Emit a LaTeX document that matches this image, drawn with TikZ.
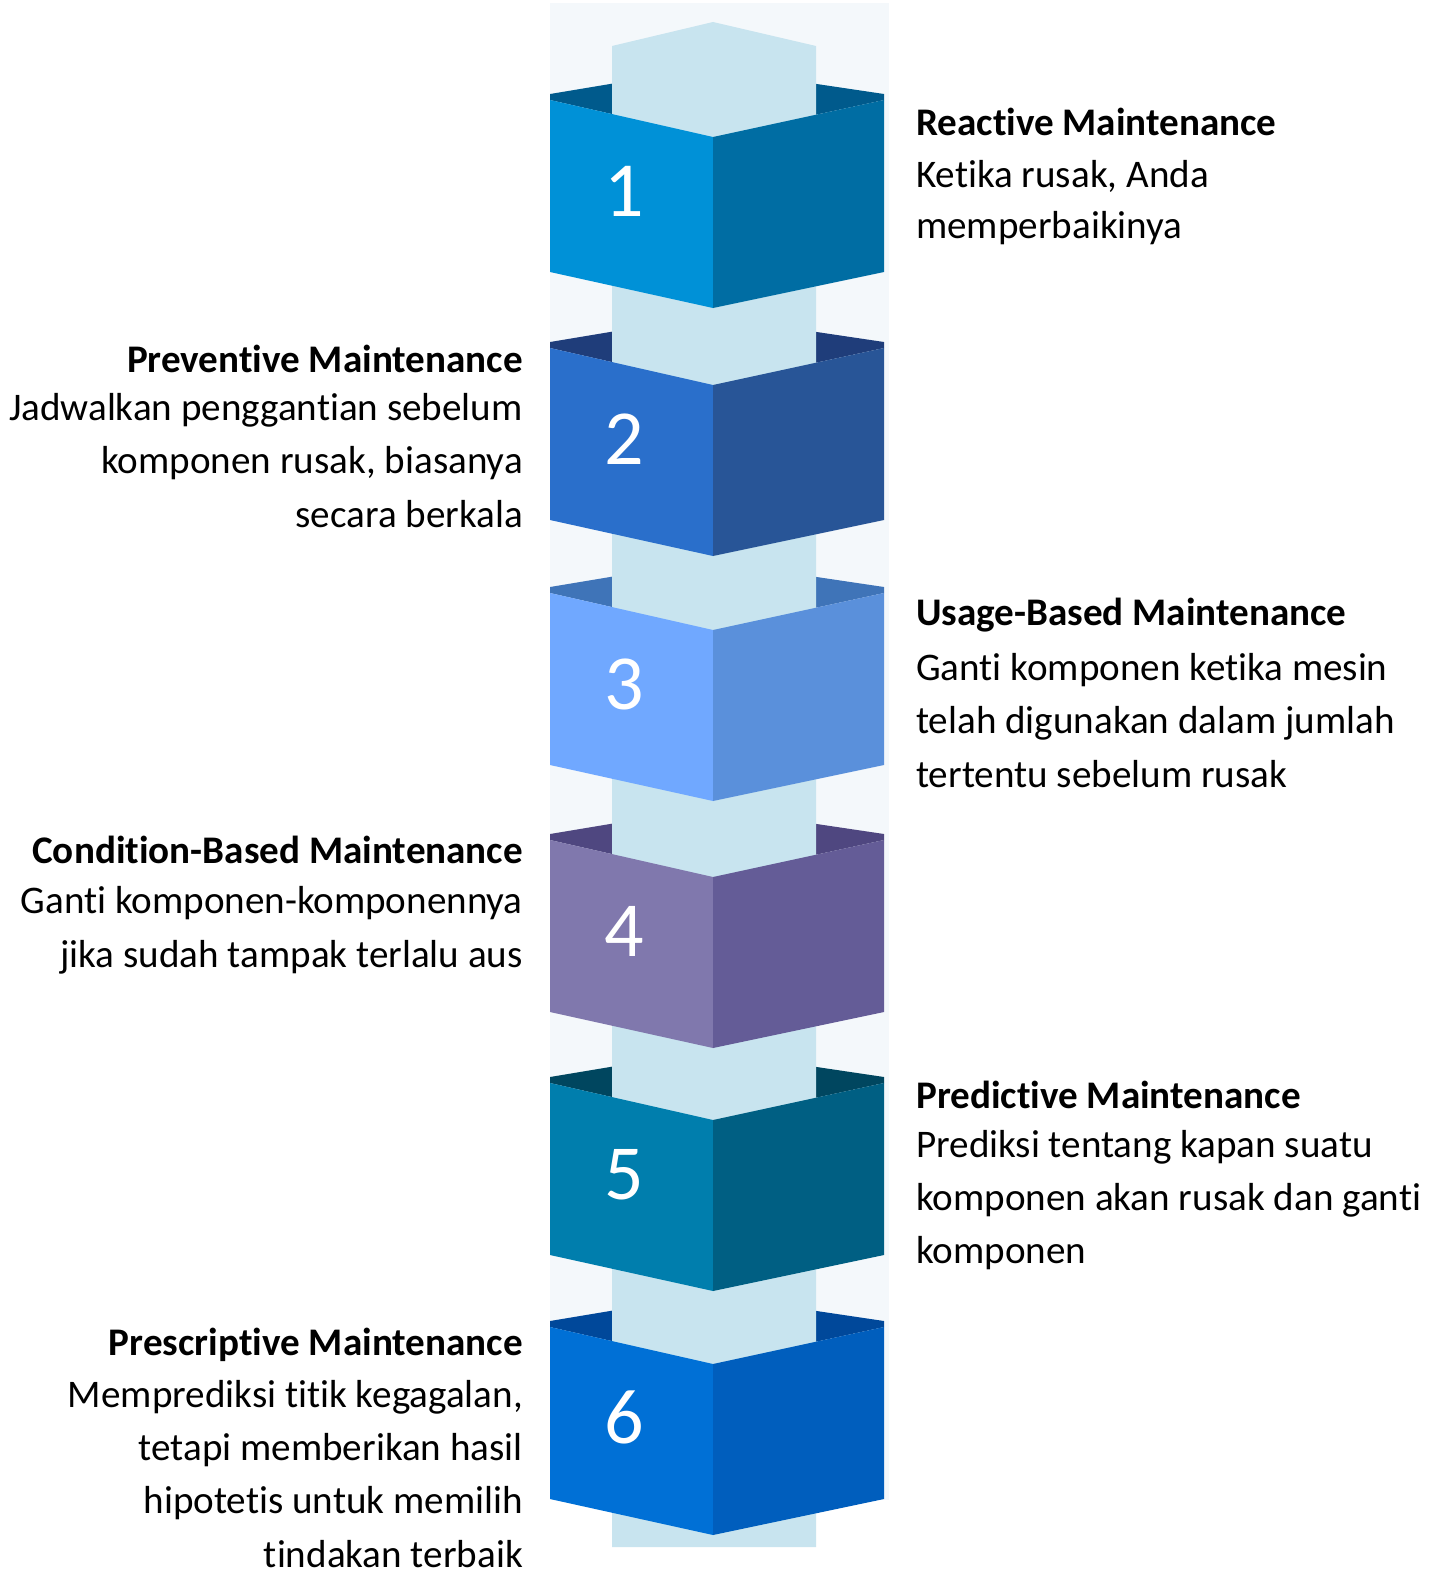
\documentclass[tikz,border=0pt]{standalone}
\usepackage{fontspec}
\setmainfont{Carlito}[Ligatures=NoCommon]
\definecolor{bgcol}{HTML}{F4F8FB}
\definecolor{pillarcol}{HTML}{C8E4EF}
\definecolor{aL}{HTML}{0091D7}\definecolor{aR}{HTML}{006DA3}\definecolor{aB}{HTML}{005A8C}
\definecolor{bL}{HTML}{2A6FCB}\definecolor{bR}{HTML}{285597}\definecolor{bB}{HTML}{1F3D7A}
\definecolor{cL}{HTML}{70A8FF}\definecolor{cR}{HTML}{5A90DB}\definecolor{cB}{HTML}{3F74B8}
\definecolor{dL}{HTML}{8078AD}\definecolor{dR}{HTML}{645C97}\definecolor{dB}{HTML}{4F4780}
\definecolor{eL}{HTML}{007EAD}\definecolor{eR}{HTML}{005F83}\definecolor{eB}{HTML}{00465F}
\definecolor{fL}{HTML}{0070D6}\definecolor{fR}{HTML}{005EBD}\definecolor{fB}{HTML}{00489A}
\begin{document}
\begin{tikzpicture}[x=1pt,y=-1pt,
  titletext/.style={font=\fontsize{39.1}{47}\selectfont\bfseries, inner sep=0pt},
  bodytext/.style={font=\fontsize{39.1}{47}\selectfont, inner sep=0pt},
  numtext/.style={font=\fontsize{78}{90}\selectfont, text=white, inner sep=0pt, anchor=base}]
\useasboundingbox (0,0) rectangle (1439,1571);
\fill[white] (0,0) rectangle (1439,1571);
\fill[bgcol] (550,3) rectangle (889,1500);
% back strips
\foreach \t/\c in {100/a,348/b,593/c,840/d,1083/e,1327/f} {
  \fill[\c B] (550,\t-6) -- (616,\t-17) -- (810,\t-17) -- (884,\t-6) -- (884,\t) -- (713,\t+37) -- (550,\t) -- cycle;
}
% pillar
\fill[pillarcol] (612,1547) -- (612,46) -- (713,22) -- (816,46) -- (816,1547) -- cycle;
% front faces
\foreach \t/\c/\n in {100/a/1,348/b/2,593/c/3,840/d/4,1083/e/5,1327/f/6} {
  \fill[\c L] (550,\t) -- (713,\t+37) -- (713,\t+208) -- (550,\t+172) -- cycle;
  \fill[\c R] (713,\t+37) -- (884,\t) -- (884,\t+172) -- (713,\t+208) -- cycle;
  \node[numtext] (num\n) at (624,\t+116) {\n};
}
% right texts
\node[titletext, anchor=base west] (t1) at (916,135) {Reactive Maintenance};
\node[bodytext, anchor=base west] (t1a) at (916,187) {Ketika rusak, Anda};
\node[bodytext, anchor=base west] (t1b) at (916,238) {memperbaikinya};

\node[titletext, anchor=base west] (t3) at (916,625) {Usage-Based Maintenance};
\node[bodytext, anchor=base west] (t3a) at (916,680) {Ganti komponen ketika mesin};
\node[bodytext, anchor=base west] (t3b) at (916,733) {telah digunakan dalam jumlah};
\node[bodytext, anchor=base west] (t3c) at (916,787) {tertentu sebelum rusak};

\node[titletext, anchor=base west] (t5) at (916,1108) {Predictive Maintenance};
\node[bodytext, anchor=base west] (t5a) at (916,1157) {Prediksi tentang kapan suatu};
\node[bodytext, anchor=base west] (t5b) at (916,1210) {komponen akan rusak dan ganti};
\node[bodytext, anchor=base west] (t5c) at (916,1263) {komponen};

% left texts
\node[titletext, anchor=base east] (t2) at (523,372) {Preventive Maintenance};
\node[bodytext, anchor=base east] (t2a) at (523,420) {Jadwalkan penggantian sebelum};
\node[bodytext, anchor=base east] (t2b) at (523,473) {komponen rusak, biasanya};
\node[bodytext, anchor=base east] (t2c) at (523,527) {secara berkala};

\node[titletext, anchor=base east] (t4) at (523,863) {Condition-Based Maintenance};
\node[bodytext, anchor=base east] (t4a) at (523,913) {Ganti komponen-komponennya};
\node[bodytext, anchor=base east] (t4b) at (523,967) {jika sudah tampak terlalu aus};

\node[titletext, anchor=base east] (t6) at (523,1355) {Prescriptive Maintenance};
\node[bodytext, anchor=base east] (t6a) at (523,1407) {Memprediksi titik kegagalan,};
\node[bodytext, anchor=base east] (t6b) at (523,1460) {tetapi memberikan hasil};
\node[bodytext, anchor=base east] (t6c) at (523,1513) {hipotetis untuk memilih};
\node[bodytext, anchor=base east] (t6d) at (523,1567) {tindakan terbaik};
\end{tikzpicture}
\end{document}
